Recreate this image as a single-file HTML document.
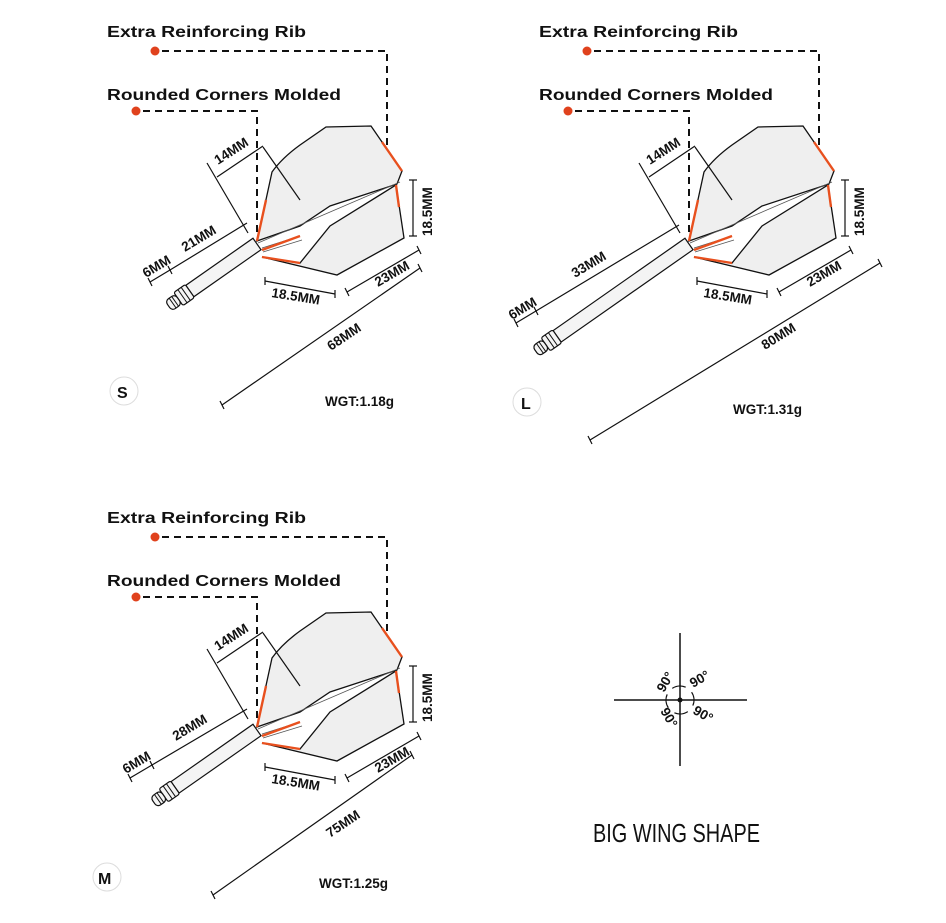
<!DOCTYPE html>
<html><head><meta charset="utf-8"><style>
body{margin:0;background:#fff}
svg{display:block}
.lb{font-family:"Liberation Sans",sans-serif;font-weight:bold;font-size:16px;fill:#111}
.dm{font-family:"Liberation Sans",sans-serif;font-weight:bold;font-size:13.5px;fill:#111}
</style></head><body>
<svg width="946" height="923" viewBox="0 0 946 923" xmlns="http://www.w3.org/2000/svg">
<defs>
<g id="flight">
  <path d="M262,257 L300,263 L330,226 L396,185 L404,238 L337,275 Z" fill="#efefef" stroke="#111" stroke-width="1.3"/>
  <path d="M257,241 L272,172 Q282,158 300,145 L326,127 L371,126 L402,171 L397,184 L330,206 L300,226 Z" fill="#efefef" stroke="#111" stroke-width="1.3"/>
  <path d="M258,243 L400,182 M262,248 L300,236 M263,252 L302,240" stroke="#555" stroke-width="0.8" fill="none"/>
  <path d="M257,241 L266,200 M382,142 L402,171 M396,185 L399,207 M262,257 L300,263 M262,250 L300,236" stroke="#e8501e" stroke-width="2.4" fill="none"/>
  <line x1="207" y1="163" x2="248" y2="233" stroke="#111" stroke-width="1.2"/>
  <line x1="263" y1="147" x2="300" y2="200" stroke="#111" stroke-width="1.2"/>
  <line x1="217" y1="177" x2="263" y2="146" stroke="#111" stroke-width="1.2"/>
  <text class="dm" transform="translate(218,165) rotate(-33)">14MM</text>
  <line x1="413" y1="180" x2="413" y2="236" stroke="#111" stroke-width="1.2"/>
  <line x1="409" y1="180" x2="417" y2="180" stroke="#111" stroke-width="1.2"/>
  <line x1="409" y1="236" x2="417" y2="236" stroke="#111" stroke-width="1.2"/>
  <text class="dm" transform="translate(432,236) rotate(-90)">18.5MM</text>
  <line x1="265" y1="281" x2="335" y2="294" stroke="#111" stroke-width="1.2"/>
  <line x1="265" y1="277" x2="265" y2="285" stroke="#111" stroke-width="1.2"/>
  <line x1="335" y1="290" x2="335" y2="298" stroke="#111" stroke-width="1.2"/>
  <text class="dm" transform="translate(271,297) rotate(9)">18.5MM</text>
  <line x1="347" y1="292" x2="419" y2="250" stroke="#111" stroke-width="1.2"/>
  <line x1="345" y1="288" x2="349" y2="296" stroke="#111" stroke-width="1.2"/>
  <line x1="417" y1="246" x2="421" y2="254" stroke="#111" stroke-width="1.2"/>
  <text class="dm" transform="translate(378,287) rotate(-30)">23MM</text>
  <circle cx="155" cy="51" r="4.5" fill="#e0421d"/>
  <path d="M162,51 H387 V150" stroke="#111" stroke-width="2" stroke-dasharray="7,5" fill="none"/>
  <circle cx="136" cy="111" r="4.5" fill="#e0421d"/>
  <path d="M143,111 H257 V236" stroke="#111" stroke-width="2" stroke-dasharray="7,5" fill="none"/>
  <text class="lb" x="107" y="37" textLength="199" lengthAdjust="spacingAndGlyphs">Extra Reinforcing Rib</text>
  <text class="lb" x="107" y="100" textLength="234" lengthAdjust="spacingAndGlyphs">Rounded Corners Molded</text>
</g>
</defs>

<!-- S -->
<g transform="translate(257,244) rotate(145)">
  <rect x="0" y="-7" width="82" height="14" fill="#f4f4f4" stroke="#111" stroke-width="1.2"/>
  <rect x="82" y="-8" width="14" height="16" rx="2" fill="#f4f4f4" stroke="#111" stroke-width="1.2"/>
  <path d="M87,-8V8M91,-8V8" stroke="#111" stroke-width="1"/>
  <rect x="96" y="-6" width="12" height="12" rx="4" fill="#f4f4f4" stroke="#111" stroke-width="1.2"/>
  <path d="M100,-6V6M103,-6V6" stroke="#111" stroke-width="1"/>
</g>
<use href="#flight"/>
<line x1="170" y1="270" x2="247" y2="223" stroke="#111" stroke-width="1.2"/>
<line x1="150" y1="282" x2="170" y2="270" stroke="#111" stroke-width="1.2"/>
<path d="M148,278 L152,286 M168,266 L172,274" stroke="#111" stroke-width="1.2"/>
<text class="dm" transform="translate(185,252) rotate(-31)">21MM</text>
<text class="dm" transform="translate(146,278) rotate(-31)">6MM</text>
<line x1="222" y1="405" x2="420" y2="268" stroke="#111" stroke-width="1.2"/>
<path d="M220,401 L224,409 M418,264 L422,272" stroke="#111" stroke-width="1.2"/>
<text class="dm" transform="translate(331,351) rotate(-34)">68MM</text>
<text class="dm" x="325" y="406">WGT:1.18g</text>
<circle cx="124" cy="391" r="14" fill="#fff" stroke="#ddd"/>
<text class="lb" x="117" y="398" font-size="18">S</text>

<!-- L -->
<g transform="translate(689,244) rotate(145)">
  <rect x="0" y="-7" width="161" height="14" fill="#f4f4f4" stroke="#111" stroke-width="1.2"/>
  <rect x="161" y="-8" width="14" height="16" rx="2" fill="#f4f4f4" stroke="#111" stroke-width="1.2"/>
  <path d="M166,-8V8M170,-8V8" stroke="#111" stroke-width="1"/>
  <rect x="175" y="-6" width="12" height="12" rx="4" fill="#f4f4f4" stroke="#111" stroke-width="1.2"/>
  <path d="M179,-6V6M182,-6V6" stroke="#111" stroke-width="1"/>
</g>
<use href="#flight" transform="translate(432,0)"/>
<line x1="536" y1="311" x2="679" y2="225" stroke="#111" stroke-width="1.2"/>
<line x1="516" y1="323" x2="536" y2="311" stroke="#111" stroke-width="1.2"/>
<path d="M514,319 L518,327 M534,307 L538,315" stroke="#111" stroke-width="1.2"/>
<text class="dm" transform="translate(575,278) rotate(-31)">33MM</text>
<text class="dm" transform="translate(512,320) rotate(-31)">6MM</text>
<line x1="590" y1="440" x2="880" y2="263" stroke="#111" stroke-width="1.2"/>
<path d="M588,436 L592,444 M878,259 L882,267" stroke="#111" stroke-width="1.2"/>
<text class="dm" transform="translate(765,350) rotate(-32)">80MM</text>
<text class="dm" x="733" y="414">WGT:1.31g</text>
<circle cx="527" cy="402" r="14" fill="#fff" stroke="#ddd"/>
<text class="lb" x="521" y="409" font-size="18">L</text>

<!-- M -->
<g transform="translate(257,730) rotate(145)">
  <rect x="0" y="-7" width="100" height="14" fill="#f4f4f4" stroke="#111" stroke-width="1.2"/>
  <rect x="100" y="-8" width="14" height="16" rx="2" fill="#f4f4f4" stroke="#111" stroke-width="1.2"/>
  <path d="M105,-8V8M109,-8V8" stroke="#111" stroke-width="1"/>
  <rect x="114" y="-6" width="12" height="12" rx="4" fill="#f4f4f4" stroke="#111" stroke-width="1.2"/>
  <path d="M118,-6V6M121,-6V6" stroke="#111" stroke-width="1"/>
</g>
<use href="#flight" transform="translate(0,486)"/>
<line x1="152" y1="765" x2="247" y2="709" stroke="#111" stroke-width="1.2"/>
<line x1="130" y1="778" x2="152" y2="765" stroke="#111" stroke-width="1.2"/>
<path d="M128,774 L132,782 M150,761 L154,769" stroke="#111" stroke-width="1.2"/>
<text class="dm" transform="translate(176,741) rotate(-31)">28MM</text>
<text class="dm" transform="translate(126,774) rotate(-31)">6MM</text>
<line x1="213" y1="895" x2="412" y2="755" stroke="#111" stroke-width="1.2"/>
<path d="M211,891 L215,899 M410,751 L414,759" stroke="#111" stroke-width="1.2"/>
<text class="dm" transform="translate(330,838) rotate(-34)">75MM</text>
<text class="dm" x="319" y="888">WGT:1.25g</text>
<circle cx="107" cy="877" r="14" fill="#fff" stroke="#ddd"/>
<text class="lb" x="98" y="884" font-size="18">M</text>

<!-- Big wing -->
<line x1="680" y1="633" x2="680" y2="766" stroke="#111" stroke-width="1.5"/>
<line x1="614" y1="700" x2="747" y2="700" stroke="#111" stroke-width="1.5"/>
<circle cx="680" cy="700" r="2.5" fill="#111"/>
<circle cx="680" cy="700" r="14" fill="none" stroke="#111" stroke-width="1.2" stroke-dasharray="14,8" transform="rotate(-34 680 700)"/>
<text class="dm" font-size="10" transform="translate(664,693) rotate(-60)">90°</text>
<text class="dm" font-size="10" transform="translate(693,688) rotate(-30)">90°</text>
<text class="dm" font-size="10" transform="translate(660,711) rotate(60)">90°</text>
<text class="dm" font-size="10" transform="translate(692,713) rotate(30)">90°</text>
<text x="593" y="842" font-family="'Liberation Sans Narrow','Liberation Sans',sans-serif" font-size="26" fill="#111" textLength="167" lengthAdjust="spacingAndGlyphs">BIG WING SHAPE</text>
</svg>
</body></html>
